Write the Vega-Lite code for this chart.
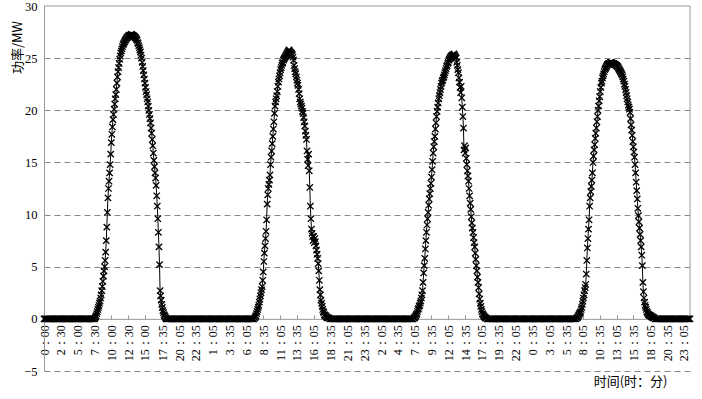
{"$schema":"https://vega.github.io/schema/vega-lite/v6.json","width":646,"height":365,"autosize":{"type":"none"},"padding":{"left":44,"top":6,"right":12,"bottom":28},"config":{"view":{"stroke":null},"font":"Liberation Serif"},
"data":{"values":[
{"t":0,"p":0},{"t":10,"p":0},{"t":20,"p":0},{"t":30,"p":0},{"t":40,"p":0},{"t":50,"p":0},{"t":60,"p":0},{"t":70,"p":0},{"t":80,"p":0},{"t":90,"p":0},{"t":100,"p":0},{"t":110,"p":0},{"t":120,"p":0},{"t":130,"p":0},{"t":140,"p":0},{"t":150,"p":0},{"t":160,"p":0},{"t":170,"p":0},{"t":180,"p":0},{"t":190,"p":0},{"t":200,"p":0},{"t":210,"p":0},{"t":220,"p":0},{"t":230,"p":0},{"t":240,"p":0},{"t":250,"p":0},{"t":260,"p":0},{"t":270,"p":0},{"t":280,"p":0},{"t":290,"p":0},{"t":300,"p":0},{"t":310,"p":0},{"t":320,"p":0},{"t":330,"p":0},{"t":340,"p":0},{"t":350,"p":0},{"t":360,"p":0},{"t":370,"p":0},{"t":380,"p":0},{"t":390,"p":0},{"t":400,"p":0},{"t":410,"p":0},{"t":420,"p":0},{"t":430,"p":0},{"t":440,"p":0},{"t":450,"p":0},
{"t":455,"p":0.1},{"t":460,"p":0.2},{"t":465,"p":0.3},{"t":470,"p":0.5},{"t":475,"p":0.7},{"t":480,"p":0.9},{"t":485,"p":1.1},{"t":490,"p":1.3},{"t":495,"p":1.5},{"t":500,"p":1.7},{"t":505,"p":2.0},{"t":510,"p":2.3},{"t":515,"p":2.7},{"t":520,"p":3.1},{"t":525,"p":3.6},{"t":530,"p":4.1},{"t":535,"p":4.6},{"t":540,"p":5.0},{"t":545,"p":5.6},{"t":550,"p":6.4},{"t":555,"p":7.5},{"t":560,"p":8.8},{"t":565,"p":10.2},{"t":570,"p":11.6},{"t":575,"p":12.5},{"t":580,"p":13.2},{"t":585,"p":14.0},{"t":590,"p":14.8},{"t":595,"p":15.8},{"t":600,"p":16.9},{"t":605,"p":17.7},{"t":610,"p":18.4},{"t":615,"p":19.1},{"t":620,"p":19.6},{"t":625,"p":20.1},{"t":630,"p":20.6},{"t":635,"p":21.1},{"t":640,"p":21.5},{"t":645,"p":22.0},{"t":650,"p":22.6},{"t":655,"p":23.2},{"t":660,"p":23.7},{"t":665,"p":24.1},{"t":670,"p":24.5},{"t":675,"p":24.9},{"t":680,"p":25.2},{"t":685,"p":25.5},{"t":690,"p":25.7},{"t":695,"p":25.9},{"t":700,"p":26.1},{"t":705,"p":26.3},{"t":710,"p":26.4},{"t":715,"p":26.5},{"t":720,"p":26.6},{"t":725,"p":26.7},{"t":730,"p":26.8},{"t":735,"p":26.9},{"t":740,"p":27.0},{"t":745,"p":27.0},{"t":750,"p":27.1},{"t":755,"p":27.1},{"t":760,"p":27.2},{"t":765,"p":27.1},{"t":770,"p":27.2},{"t":775,"p":27.2},{"t":780,"p":27.3},{"t":785,"p":27.2},{"t":790,"p":27.1},{"t":795,"p":27.2},{"t":800,"p":27.1},{"t":805,"p":27.1},{"t":810,"p":27.0},{"t":815,"p":27.0},{"t":820,"p":26.9},{"t":825,"p":26.8},{"t":830,"p":26.7},{"t":835,"p":26.5},{"t":840,"p":26.4},{"t":845,"p":26.2},{"t":850,"p":26.0},{"t":855,"p":25.8},{"t":860,"p":25.6},{"t":865,"p":25.3},{"t":870,"p":25.0},{"t":875,"p":24.6},{"t":880,"p":24.2},{"t":885,"p":23.8},{"t":890,"p":23.4},{"t":895,"p":23.0},{"t":900,"p":22.6},{"t":905,"p":22.2},{"t":910,"p":21.8},{"t":915,"p":21.5},{"t":920,"p":21.1},{"t":925,"p":20.8},{"t":930,"p":20.4},{"t":935,"p":20.0},{"t":940,"p":19.6},{"t":945,"p":19.2},{"t":950,"p":18.8},{"t":955,"p":18.3},{"t":960,"p":17.8},{"t":965,"p":17.2},{"t":970,"p":16.6},{"t":975,"p":15.9},{"t":980,"p":15.2},{"t":985,"p":14.6},{"t":990,"p":14.0},{"t":995,"p":13.5},{"t":1000,"p":12.8},{"t":1005,"p":11.8},{"t":1010,"p":10.8},{"t":1015,"p":9.6},{"t":1020,"p":8.3},{"t":1025,"p":6.9},{"t":1030,"p":5.2},{"t":1035,"p":2.7},{"t":1040,"p":2.2},{"t":1045,"p":1.8},{"t":1050,"p":1.4},{"t":1055,"p":1.1},{"t":1060,"p":0.8},{"t":1065,"p":0.6},{"t":1070,"p":0.4},{"t":1075,"p":0.3},{"t":1080,"p":0.2},{"t":1085,"p":0.1},{"t":1090,"p":0},
{"t":1100,"p":0},{"t":1110,"p":0},{"t":1120,"p":0},{"t":1130,"p":0},{"t":1140,"p":0},{"t":1150,"p":0},{"t":1160,"p":0},{"t":1170,"p":0},{"t":1180,"p":0},{"t":1190,"p":0},{"t":1200,"p":0},{"t":1210,"p":0},{"t":1220,"p":0},{"t":1230,"p":0},{"t":1240,"p":0},{"t":1250,"p":0},{"t":1260,"p":0},{"t":1270,"p":0},{"t":1280,"p":0},{"t":1290,"p":0},{"t":1300,"p":0},{"t":1310,"p":0},{"t":1320,"p":0},{"t":1330,"p":0},{"t":1340,"p":0},{"t":1350,"p":0},{"t":1360,"p":0},{"t":1370,"p":0},{"t":1380,"p":0},{"t":1390,"p":0},{"t":1400,"p":0},{"t":1410,"p":0},{"t":1420,"p":0},{"t":1430,"p":0},{"t":1440,"p":0},{"t":1450,"p":0},{"t":1460,"p":0},{"t":1470,"p":0},{"t":1480,"p":0},{"t":1490,"p":0},{"t":1500,"p":0},{"t":1510,"p":0},{"t":1520,"p":0},{"t":1530,"p":0},{"t":1540,"p":0},{"t":1550,"p":0},{"t":1560,"p":0},{"t":1570,"p":0},{"t":1580,"p":0},{"t":1590,"p":0},{"t":1600,"p":0},{"t":1610,"p":0},{"t":1620,"p":0},{"t":1630,"p":0},{"t":1640,"p":0},{"t":1650,"p":0},{"t":1660,"p":0},{"t":1670,"p":0},{"t":1680,"p":0},{"t":1690,"p":0},{"t":1700,"p":0},{"t":1710,"p":0},{"t":1720,"p":0},{"t":1730,"p":0},{"t":1740,"p":0},{"t":1750,"p":0},{"t":1760,"p":0},{"t":1770,"p":0},{"t":1780,"p":0},{"t":1790,"p":0},{"t":1800,"p":0},{"t":1810,"p":0},{"t":1820,"p":0},{"t":1830,"p":0},{"t":1840,"p":0},{"t":1850,"p":0},{"t":1860,"p":0},{"t":1870,"p":0},
{"t":1880,"p":0.1},{"t":1885,"p":0.2},{"t":1890,"p":0.3},{"t":1895,"p":0.5},{"t":1900,"p":0.7},{"t":1905,"p":0.9},{"t":1910,"p":1.1},{"t":1915,"p":1.3},{"t":1920,"p":1.6},{"t":1925,"p":1.9},{"t":1930,"p":2.2},{"t":1935,"p":2.5},{"t":1940,"p":2.8},{"t":1945,"p":3.1},{"t":1950,"p":3.7},{"t":1955,"p":4.5},{"t":1960,"p":5.5},{"t":1965,"p":6.3},{"t":1970,"p":7.0},{"t":1975,"p":7.7},{"t":1980,"p":8.4},{"t":1985,"p":9.5},{"t":1990,"p":11.0},{"t":1995,"p":11.9},{"t":2000,"p":12.5},{"t":2005,"p":12.9},{"t":2010,"p":13.3},{"t":2015,"p":13.8},{"t":2020,"p":14.8},{"t":2025,"p":15.5},{"t":2030,"p":16.1},{"t":2035,"p":16.8},{"t":2040,"p":17.5},{"t":2045,"p":18.2},{"t":2050,"p":18.9},{"t":2055,"p":19.7},{"t":2060,"p":20.4},{"t":2065,"p":20.8},{"t":2070,"p":21.1},{"t":2075,"p":21.4},{"t":2080,"p":21.8},{"t":2085,"p":22.3},{"t":2090,"p":22.7},{"t":2095,"p":23.0},{"t":2100,"p":23.3},{"t":2105,"p":23.6},{"t":2110,"p":23.9},{"t":2115,"p":24.1},{"t":2120,"p":24.3},{"t":2125,"p":24.5},{"t":2130,"p":24.6},{"t":2135,"p":24.8},{"t":2140,"p":24.9},{"t":2145,"p":25.0},{"t":2150,"p":25.1},{"t":2155,"p":25.2},{"t":2160,"p":25.3},{"t":2165,"p":25.4},{"t":2170,"p":25.5},{"t":2175,"p":25.6},{"t":2180,"p":25.7},{"t":2185,"p":25.8},{"t":2190,"p":25.7},{"t":2195,"p":25.6},{"t":2200,"p":25.5},{"t":2205,"p":25.5},{"t":2210,"p":25.4},{"t":2215,"p":25.3},{"t":2220,"p":25.1},{"t":2225,"p":24.8},{"t":2230,"p":24.3},{"t":2235,"p":24.0},{"t":2240,"p":23.7},{"t":2245,"p":23.5},{"t":2250,"p":23.2},{"t":2255,"p":22.9},{"t":2260,"p":22.6},{"t":2265,"p":22.4},{"t":2270,"p":22.0},{"t":2275,"p":21.6},{"t":2280,"p":21.1},{"t":2285,"p":20.8},{"t":2290,"p":20.6},{"t":2295,"p":20.4},{"t":2300,"p":20.2},{"t":2305,"p":19.9},{"t":2310,"p":19.7},{"t":2315,"p":19.3},{"t":2320,"p":18.9},{"t":2325,"p":18.5},{"t":2330,"p":18.0},{"t":2335,"p":17.6},{"t":2340,"p":17.2},{"t":2345,"p":16.1},{"t":2350,"p":15.3},{"t":2355,"p":14.7},{"t":2360,"p":15.8},{"t":2365,"p":14.2},{"t":2370,"p":12.6},{"t":2375,"p":10.8},{"t":2380,"p":9.6},{"t":2385,"p":8.6},{"t":2390,"p":8.2},{"t":2395,"p":7.9},{"t":2400,"p":7.5},{"t":2405,"p":7.9},{"t":2410,"p":7.3},{"t":2415,"p":7.7},{"t":2420,"p":7.4},{"t":2425,"p":7.0},{"t":2430,"p":6.6},{"t":2435,"p":6.2},{"t":2440,"p":5.8},{"t":2445,"p":5.3},{"t":2450,"p":4.6},{"t":2455,"p":3.7},{"t":2460,"p":2.8},{"t":2465,"p":2.3},{"t":2470,"p":1.8},{"t":2475,"p":1.5},{"t":2480,"p":1.2},{"t":2485,"p":0.9},{"t":2490,"p":0.7},{"t":2495,"p":0.6},{"t":2500,"p":0.4},{"t":2505,"p":0.3},{"t":2510,"p":0.3},{"t":2515,"p":0.2},{"t":2520,"p":0.2},{"t":2525,"p":0.1},{"t":2530,"p":0.1},{"t":2540,"p":0.1},{"t":2550,"p":0},
{"t":2560,"p":0},{"t":2570,"p":0},{"t":2580,"p":0},{"t":2590,"p":0},{"t":2600,"p":0},{"t":2610,"p":0},{"t":2620,"p":0},{"t":2630,"p":0},{"t":2640,"p":0},{"t":2650,"p":0},{"t":2660,"p":0},{"t":2670,"p":0},{"t":2680,"p":0},{"t":2690,"p":0},{"t":2700,"p":0},{"t":2710,"p":0},{"t":2720,"p":0},{"t":2730,"p":0},{"t":2740,"p":0},{"t":2750,"p":0},{"t":2760,"p":0},{"t":2770,"p":0},{"t":2780,"p":0},{"t":2790,"p":0},{"t":2800,"p":0},{"t":2810,"p":0},{"t":2820,"p":0},{"t":2830,"p":0},{"t":2840,"p":0},{"t":2850,"p":0},{"t":2860,"p":0},{"t":2870,"p":0},{"t":2880,"p":0},{"t":2890,"p":0},{"t":2900,"p":0},{"t":2910,"p":0},{"t":2920,"p":0},{"t":2930,"p":0},{"t":2940,"p":0},{"t":2950,"p":0},{"t":2960,"p":0},{"t":2970,"p":0},{"t":2980,"p":0},{"t":2990,"p":0},{"t":3000,"p":0},{"t":3010,"p":0},{"t":3020,"p":0},{"t":3030,"p":0},{"t":3040,"p":0},{"t":3050,"p":0},{"t":3060,"p":0},{"t":3070,"p":0},{"t":3080,"p":0},{"t":3090,"p":0},{"t":3100,"p":0},{"t":3110,"p":0},{"t":3120,"p":0},{"t":3130,"p":0},{"t":3140,"p":0},{"t":3150,"p":0},{"t":3160,"p":0},{"t":3170,"p":0},{"t":3180,"p":0},{"t":3190,"p":0},{"t":3200,"p":0},{"t":3210,"p":0},{"t":3220,"p":0},{"t":3230,"p":0},{"t":3240,"p":0},{"t":3250,"p":0},{"t":3260,"p":0},{"t":3270,"p":0},{"t":3280,"p":0},{"t":3290,"p":0},
{"t":3300,"p":0.1},{"t":3305,"p":0.1},{"t":3310,"p":0.2},{"t":3315,"p":0.3},{"t":3320,"p":0.4},{"t":3325,"p":0.5},{"t":3330,"p":0.7},{"t":3335,"p":0.9},{"t":3340,"p":1.0},{"t":3345,"p":1.2},{"t":3350,"p":1.3},{"t":3355,"p":1.5},{"t":3360,"p":1.7},{"t":3365,"p":2.0},{"t":3370,"p":2.3},{"t":3375,"p":2.7},{"t":3380,"p":3.5},{"t":3385,"p":4.4},{"t":3390,"p":5.1},{"t":3395,"p":5.8},{"t":3400,"p":6.7},{"t":3405,"p":7.5},{"t":3410,"p":8.3},{"t":3415,"p":9.0},{"t":3420,"p":9.6},{"t":3425,"p":10.2},{"t":3430,"p":10.9},{"t":3435,"p":11.5},{"t":3440,"p":12.0},{"t":3445,"p":12.5},{"t":3450,"p":13.0},{"t":3455,"p":13.6},{"t":3460,"p":14.3},{"t":3465,"p":15.1},{"t":3470,"p":15.9},{"t":3475,"p":16.5},{"t":3480,"p":17.0},{"t":3485,"p":17.5},{"t":3490,"p":18.2},{"t":3495,"p":18.8},{"t":3500,"p":19.4},{"t":3505,"p":19.9},{"t":3510,"p":20.3},{"t":3515,"p":20.7},{"t":3520,"p":21.1},{"t":3525,"p":21.4},{"t":3530,"p":21.7},{"t":3535,"p":22.0},{"t":3540,"p":22.3},{"t":3545,"p":22.6},{"t":3550,"p":22.8},{"t":3555,"p":22.9},{"t":3560,"p":23.1},{"t":3565,"p":23.2},{"t":3570,"p":23.4},{"t":3575,"p":23.6},{"t":3580,"p":23.8},{"t":3585,"p":24.0},{"t":3590,"p":24.2},{"t":3595,"p":24.3},{"t":3600,"p":24.5},{"t":3605,"p":24.6},{"t":3610,"p":24.8},{"t":3615,"p":24.9},{"t":3620,"p":25.0},{"t":3625,"p":25.1},{"t":3630,"p":25.2},{"t":3635,"p":25.2},{"t":3640,"p":25.3},{"t":3645,"p":25.3},{"t":3650,"p":25.3},{"t":3655,"p":25.4},{"t":3660,"p":25.3},{"t":3665,"p":25.2},{"t":3670,"p":25.1},{"t":3675,"p":25.0},{"t":3680,"p":24.6},{"t":3685,"p":24.3},{"t":3690,"p":23.9},{"t":3695,"p":23.6},{"t":3700,"p":23.1},{"t":3705,"p":22.7},{"t":3710,"p":22.2},{"t":3715,"p":21.7},{"t":3720,"p":22.3},{"t":3725,"p":21.2},{"t":3730,"p":20.3},{"t":3735,"p":19.4},{"t":3740,"p":18.3},{"t":3745,"p":16.2},{"t":3750,"p":16.6},{"t":3755,"p":15.9},{"t":3760,"p":16.4},{"t":3765,"p":15.4},{"t":3770,"p":14.8},{"t":3775,"p":14.2},{"t":3780,"p":13.7},{"t":3785,"p":13.2},{"t":3790,"p":12.5},{"t":3795,"p":11.8},{"t":3800,"p":11.1},{"t":3805,"p":10.5},{"t":3810,"p":9.8},{"t":3815,"p":9.2},{"t":3820,"p":8.7},{"t":3825,"p":8.3},{"t":3830,"p":7.8},{"t":3835,"p":7.3},{"t":3840,"p":6.9},{"t":3845,"p":6.3},{"t":3850,"p":5.7},{"t":3855,"p":5.1},{"t":3860,"p":4.6},{"t":3865,"p":4.0},{"t":3870,"p":3.5},{"t":3875,"p":3.0},{"t":3880,"p":2.4},{"t":3885,"p":1.9},{"t":3890,"p":1.5},{"t":3895,"p":1.2},{"t":3900,"p":0.9},{"t":3905,"p":0.7},{"t":3910,"p":0.5},{"t":3915,"p":0.4},{"t":3920,"p":0.3},{"t":3925,"p":0.2},{"t":3930,"p":0.2},{"t":3935,"p":0.1},{"t":3940,"p":0.1},{"t":3950,"p":0},
{"t":3960,"p":0},{"t":3970,"p":0},{"t":3980,"p":0},{"t":3990,"p":0},{"t":4000,"p":0},{"t":4010,"p":0},{"t":4020,"p":0},{"t":4030,"p":0},{"t":4040,"p":0},{"t":4050,"p":0},{"t":4060,"p":0},{"t":4070,"p":0},{"t":4080,"p":0},{"t":4090,"p":0},{"t":4100,"p":0},{"t":4110,"p":0},{"t":4120,"p":0},{"t":4130,"p":0},{"t":4140,"p":0},{"t":4150,"p":0},{"t":4160,"p":0},{"t":4170,"p":0},{"t":4180,"p":0},{"t":4190,"p":0},{"t":4200,"p":0},{"t":4210,"p":0},{"t":4220,"p":0},{"t":4230,"p":0},{"t":4240,"p":0},{"t":4250,"p":0},{"t":4260,"p":0},{"t":4270,"p":0},{"t":4280,"p":0},{"t":4290,"p":0},{"t":4300,"p":0},{"t":4310,"p":0},{"t":4320,"p":0},{"t":4330,"p":0},{"t":4340,"p":0},{"t":4350,"p":0},{"t":4360,"p":0},{"t":4370,"p":0},{"t":4380,"p":0},{"t":4390,"p":0},{"t":4400,"p":0},{"t":4410,"p":0},{"t":4420,"p":0},{"t":4430,"p":0},{"t":4440,"p":0},{"t":4450,"p":0},{"t":4460,"p":0},{"t":4470,"p":0},{"t":4480,"p":0},{"t":4490,"p":0},{"t":4500,"p":0},{"t":4510,"p":0},{"t":4520,"p":0},{"t":4530,"p":0},{"t":4540,"p":0},{"t":4550,"p":0},{"t":4560,"p":0},{"t":4570,"p":0},{"t":4580,"p":0},{"t":4590,"p":0},{"t":4600,"p":0},{"t":4610,"p":0},{"t":4620,"p":0},{"t":4630,"p":0},{"t":4640,"p":0},{"t":4650,"p":0},{"t":4660,"p":0},{"t":4670,"p":0},{"t":4680,"p":0},{"t":4690,"p":0},{"t":4700,"p":0},{"t":4710,"p":0},{"t":4720,"p":0},{"t":4730,"p":0},{"t":4740,"p":0},
{"t":4750,"p":0.1},{"t":4755,"p":0.1},{"t":4760,"p":0.2},{"t":4765,"p":0.3},{"t":4770,"p":0.4},{"t":4775,"p":0.5},{"t":4780,"p":0.6},{"t":4785,"p":0.7},{"t":4790,"p":0.9},{"t":4795,"p":1.1},{"t":4800,"p":1.4},{"t":4805,"p":1.7},{"t":4810,"p":2.0},{"t":4815,"p":2.3},{"t":4820,"p":2.7},{"t":4825,"p":3.0},{"t":4830,"p":3.3},{"t":4835,"p":4.3},{"t":4840,"p":5.6},{"t":4845,"p":6.8},{"t":4850,"p":7.7},{"t":4855,"p":8.6},{"t":4860,"p":9.5},{"t":4865,"p":10.8},{"t":4870,"p":11.6},{"t":4875,"p":12.2},{"t":4880,"p":12.7},{"t":4885,"p":13.3},{"t":4890,"p":14.0},{"t":4895,"p":15.0},{"t":4900,"p":15.6},{"t":4905,"p":16.2},{"t":4910,"p":16.7},{"t":4915,"p":17.3},{"t":4920,"p":17.8},{"t":4925,"p":18.3},{"t":4930,"p":18.9},{"t":4935,"p":19.4},{"t":4940,"p":20.0},{"t":4945,"p":20.4},{"t":4950,"p":20.9},{"t":4955,"p":21.3},{"t":4960,"p":21.8},{"t":4965,"p":22.2},{"t":4970,"p":22.6},{"t":4975,"p":22.8},{"t":4980,"p":23.1},{"t":4985,"p":23.3},{"t":4990,"p":23.5},{"t":4995,"p":23.7},{"t":5000,"p":23.9},{"t":5005,"p":24.0},{"t":5010,"p":24.1},{"t":5015,"p":24.2},{"t":5020,"p":24.3},{"t":5025,"p":24.4},{"t":5030,"p":24.4},{"t":5035,"p":24.5},{"t":5040,"p":24.5},{"t":5045,"p":24.5},{"t":5050,"p":24.6},{"t":5055,"p":24.6},{"t":5060,"p":24.6},{"t":5065,"p":24.5},{"t":5070,"p":24.5},{"t":5075,"p":24.5},{"t":5080,"p":24.5},{"t":5085,"p":24.4},{"t":5090,"p":24.4},{"t":5095,"p":24.4},{"t":5100,"p":24.3},{"t":5105,"p":24.3},{"t":5110,"p":24.2},{"t":5115,"p":24.2},{"t":5120,"p":24.1},{"t":5125,"p":24.0},{"t":5130,"p":23.9},{"t":5135,"p":23.8},{"t":5140,"p":23.7},{"t":5145,"p":23.6},{"t":5150,"p":23.5},{"t":5155,"p":23.4},{"t":5160,"p":23.2},{"t":5165,"p":23.0},{"t":5170,"p":22.8},{"t":5175,"p":22.5},{"t":5180,"p":22.3},{"t":5185,"p":22.0},{"t":5190,"p":21.7},{"t":5195,"p":21.4},{"t":5200,"p":21.1},{"t":5205,"p":20.8},{"t":5210,"p":20.5},{"t":5215,"p":20.3},{"t":5220,"p":20.1},{"t":5225,"p":19.8},{"t":5230,"p":19.2},{"t":5235,"p":18.6},{"t":5240,"p":18.1},{"t":5245,"p":17.6},{"t":5250,"p":17.0},{"t":5255,"p":16.5},{"t":5260,"p":16.0},{"t":5265,"p":15.5},{"t":5270,"p":14.8},{"t":5275,"p":14.0},{"t":5280,"p":13.1},{"t":5285,"p":12.3},{"t":5290,"p":11.5},{"t":5295,"p":10.6},{"t":5300,"p":9.9},{"t":5305,"p":9.3},{"t":5310,"p":8.7},{"t":5315,"p":8.1},{"t":5320,"p":7.5},{"t":5325,"p":6.9},{"t":5330,"p":6.1},{"t":5335,"p":5.1},{"t":5340,"p":3.5},{"t":5345,"p":2.6},{"t":5350,"p":2.0},{"t":5355,"p":1.6},{"t":5360,"p":1.3},{"t":5365,"p":1.1},{"t":5370,"p":0.9},{"t":5375,"p":0.7},{"t":5380,"p":0.6},{"t":5385,"p":0.5},{"t":5390,"p":0.4},{"t":5395,"p":0.4},{"t":5400,"p":0.3},{"t":5405,"p":0.3},{"t":5410,"p":0.3},{"t":5415,"p":0.2},{"t":5420,"p":0.2},{"t":5425,"p":0.2},{"t":5430,"p":0.1},{"t":5435,"p":0.1},{"t":5440,"p":0.1},{"t":5450,"p":0},
{"t":5460,"p":0},{"t":5470,"p":0},{"t":5480,"p":0},{"t":5490,"p":0},{"t":5500,"p":0},{"t":5510,"p":0},{"t":5520,"p":0},{"t":5530,"p":0},{"t":5540,"p":0},{"t":5550,"p":0},{"t":5560,"p":0},{"t":5570,"p":0},{"t":5580,"p":0},{"t":5590,"p":0},{"t":5600,"p":0},{"t":5610,"p":0},{"t":5620,"p":0},{"t":5630,"p":0},{"t":5640,"p":0},{"t":5650,"p":0},{"t":5660,"p":0},{"t":5670,"p":0},{"t":5680,"p":0},{"t":5690,"p":0},{"t":5700,"p":0},{"t":5710,"p":0},{"t":5720,"p":0},{"t":5730,"p":0},{"t":5740,"p":0},{"t":5750,"p":0},{"t":5760,"p":0}
]},
"encoding":{
"x":{"field":"t","type":"quantitative","scale":{"domain":[0,5760],"nice":false,"zero":false},
"axis":{"values":[0,150,300,450,600,750,900,1055,1205,1355,1505,1655,1805,1955,2105,2255,2405,2555,2705,2855,3005,3155,3305,3455,3605,3755,3905,4055,4205,4355,4505,4655,4805,4955,5105,5255,5405,5555,5705],
"labelExpr":"floor((datum.value % 1440) / 60) + '：' + (datum.value % 60 < 10 ? '0' : '') + (datum.value % 60)",
"labelAngle":270,"labelAlign":"right","labelBaseline":"middle","labelFont":"Liberation Serif","labelFontSize":12,"labelColor":"#000","labelPadding":10,"labelOverlap":false,"labelFlush":false,"labelBound":false,
"tickSize":-4,"tickColor":"#999","domainColor":"#999","grid":false,"offset":-52.14,
"title":"时间(时：分)","titleFont":"Noto Sans CJK SC","titleFontSize":13,"titleFontWeight":"normal","titleColor":"#000","titleAlign":"right","titleX":623,"titleY":63,"titleBaseline":"middle"}},
"y":{"field":"p","type":"quantitative","scale":{"domain":[-5,30],"nice":false,"zero":false},
"axis":{"values":[-5,0,5,10,15,20,25,30],"ticks":false,"labelPadding":7,"labelFontSize":12.5,"labelFont":"Liberation Serif","labelColor":"#000","domainColor":"#999",
"grid":true,"gridColor":"#888","gridDash":[6,4],"gridOpacity":{"condition":{"test":"datum.value === 0 || datum.value === 30","value":0},"value":1},
"title":"功率/MW","titleFont":"Noto Sans CJK SC","titleFontSize":13,"titleFontWeight":"normal","titleColor":"#000","titleX":-27,"titleY":41,"titleAngle":-90,"titleAlign":"center","titleBaseline":"middle"}}
},
"layer":[
{"data":{"values":[{"t":0,"t2":5760,"p":30}]},"mark":{"type":"rule","color":"#999","strokeWidth":1},"encoding":{"x2":{"field":"t2"}}},
{"data":{"values":[{"t":5760,"p":0,"p2":30}]},"mark":{"type":"rule","color":"#999","strokeWidth":1},"encoding":{"y2":{"field":"p2"}}},
{"mark":{"type":"line","color":"#000","strokeWidth":1},"encoding":{}},
{"mark":{"type":"point","shape":"M-1,-1L1,1M1,-1L-1,1","filled":false,"color":"#000","strokeWidth":1.3,"size":40,"opacity":1},"encoding":{}}
]}
